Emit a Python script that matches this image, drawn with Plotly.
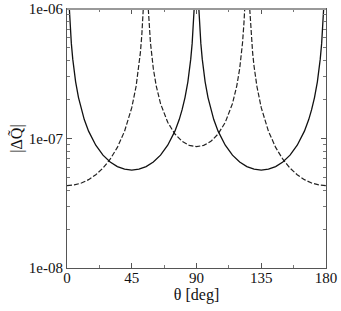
import plotly.graph_objects as go

# theta [deg] and |dQ| values
theta_solid = [1.6, 2, 2.5, 3, 4, 5, 6, 8, 10, 12, 15, 20, 25, 30, 35, 40, 45,
               50, 55, 60, 65, 70, 75, 78, 80, 82, 84, 85, 86, 87, 87.5, 88, 88.4,
               None,
               91.6, 92, 92.5, 93, 94, 95, 96, 98, 100, 102, 105, 110, 115, 120, 125, 130, 135,
               140, 145, 150, 155, 160, 165, 168, 170, 172, 174, 175, 176, 177, 177.5, 178, 178.4]
val_solid = [1.02e-6, 8.17e-7, 6.54e-7, 5.45e-7, 4.10e-7, 3.28e-7, 2.74e-7, 2.07e-7, 1.67e-7, 1.40e-7,
             1.14e-7, 8.87e-8, 7.44e-8, 6.58e-8, 6.07e-8, 5.79e-8, 5.70e-8,
             5.79e-8, 6.07e-8, 6.58e-8, 7.44e-8, 8.87e-8, 1.14e-7, 1.40e-7, 1.67e-7, 2.07e-7, 2.74e-7,
             3.28e-7, 4.10e-7, 5.45e-7, 6.54e-7, 8.17e-7, 1.02e-6,
             None,
             1.02e-6, 8.17e-7, 6.54e-7, 5.45e-7, 4.10e-7, 3.28e-7, 2.74e-7, 2.07e-7, 1.67e-7, 1.40e-7,
             1.14e-7, 8.87e-8, 7.44e-8, 6.58e-8, 6.07e-8, 5.79e-8, 5.70e-8,
             5.79e-8, 6.07e-8, 6.58e-8, 7.44e-8, 8.87e-8, 1.14e-7, 1.40e-7, 1.67e-7, 2.07e-7, 2.74e-7,
             3.28e-7, 4.10e-7, 5.45e-7, 6.54e-7, 8.17e-7, 1.02e-6]

theta_dash = [0, 5, 10, 15, 20, 25, 30, 35, 40, 45, 48, 50, 51, 52, 53,
              None,
              56.5, 57, 58, 60, 62, 65, 70, 75, 80, 85, 90, 95, 100, 105, 110, 115, 118, 120, 122, 123, 123.5,
              None,
              127, 128, 129, 130, 132, 135, 140, 145, 150, 155, 160, 165, 170, 175, 180]
val_dash = [4.33e-8, 4.38e-8, 4.53e-8, 4.81e-8, 5.25e-8, 5.91e-8, 6.92e-8, 8.54e-8, 1.138e-7, 1.73e-7,
            2.52e-7, 3.61e-7, 4.60e-7, 6.31e-7, 1.0e-6,
            None,
            1.0e-6, 7.85e-7, 5.49e-7, 3.46e-7, 2.55e-7, 1.86e-7, 1.333e-7, 1.083e-7, 9.51e-8, 8.85e-8, 8.65e-8,
            8.85e-8, 9.51e-8, 1.083e-7, 1.333e-7, 1.86e-7, 2.55e-7, 3.46e-7, 5.49e-7, 7.85e-7, 1.0e-6,
            None,
            1.0e-6, 6.31e-7, 4.60e-7, 3.61e-7, 2.52e-7, 1.73e-7, 1.138e-7, 8.54e-8, 6.92e-8, 5.91e-8,
            5.25e-8, 4.81e-8, 4.53e-8, 4.38e-8, 4.33e-8]

x_ticks = [0, 45, 90, 135, 180]
y_ticks = [1e-8, 1e-7, 1e-6]
y_tick_labels = ["1e-08", "1e-07", "1e-06"]

FONT = "Times New Roman, Liberation Serif, DejaVu Serif, serif"

fig = go.Figure()
fig.add_trace(go.Scatter(x=theta_dash, y=val_dash, mode="lines", connectgaps=False,
                         line=dict(color="#222", width=1.2, dash="5px,2px"), showlegend=False))
fig.add_trace(go.Scatter(x=theta_solid, y=val_solid, mode="lines", connectgaps=False,
                         line=dict(color="#111", width=1.3), showlegend=False))

fig.update_layout(
    width=341, height=311,
    margin=dict(l=67, r=15, t=9, b=43),
    paper_bgcolor="white", plot_bgcolor="white",
    font=dict(family=FONT, size=13, color="#111"),
)
fig.update_xaxes(
    range=[0, 180], tickvals=x_ticks, ticks="inside", ticklen=5, tickcolor="#555",
    showgrid=False, zeroline=False, showline=True, linecolor="#555", linewidth=1,
    mirror="ticks", automargin=False, ticklabelstandoff=-4,
    minor=dict(dtick=22.5, ticks="inside", ticklen=3, tickcolor="#777", showgrid=False),
    title=dict(text="θ [deg]", font=dict(family=FONT, size=16), standoff=2),
    tickfont=dict(family=FONT, size=15),
)
fig.update_yaxes(
    type="log", range=[-8, -6], tickvals=y_ticks, ticktext=y_tick_labels,
    ticks="inside", ticklen=5, tickcolor="#555",
    showgrid=False, zeroline=False, showline=True, linecolor="#555", linewidth=1,
    mirror="ticks", automargin=False,
    minor=dict(dtick="D1", ticks="inside", ticklen=3, tickcolor="#777", showgrid=False),
    title=dict(text="|ΔQ\u0303|", font=dict(family=FONT, size=16), standoff=2),
    tickfont=dict(family=FONT, size=15),
)
# light grey top frame edge as in the reference
fig.add_shape(type="line", xref="paper", yref="paper", x0=0, x1=1, y0=1, y1=1,
              line=dict(color="#999", width=2))

fig.write_html("out.html", config={"displayModeBar": False},
               post_script="document.body.style.margin='0';document.body.style.overflow='hidden';")
